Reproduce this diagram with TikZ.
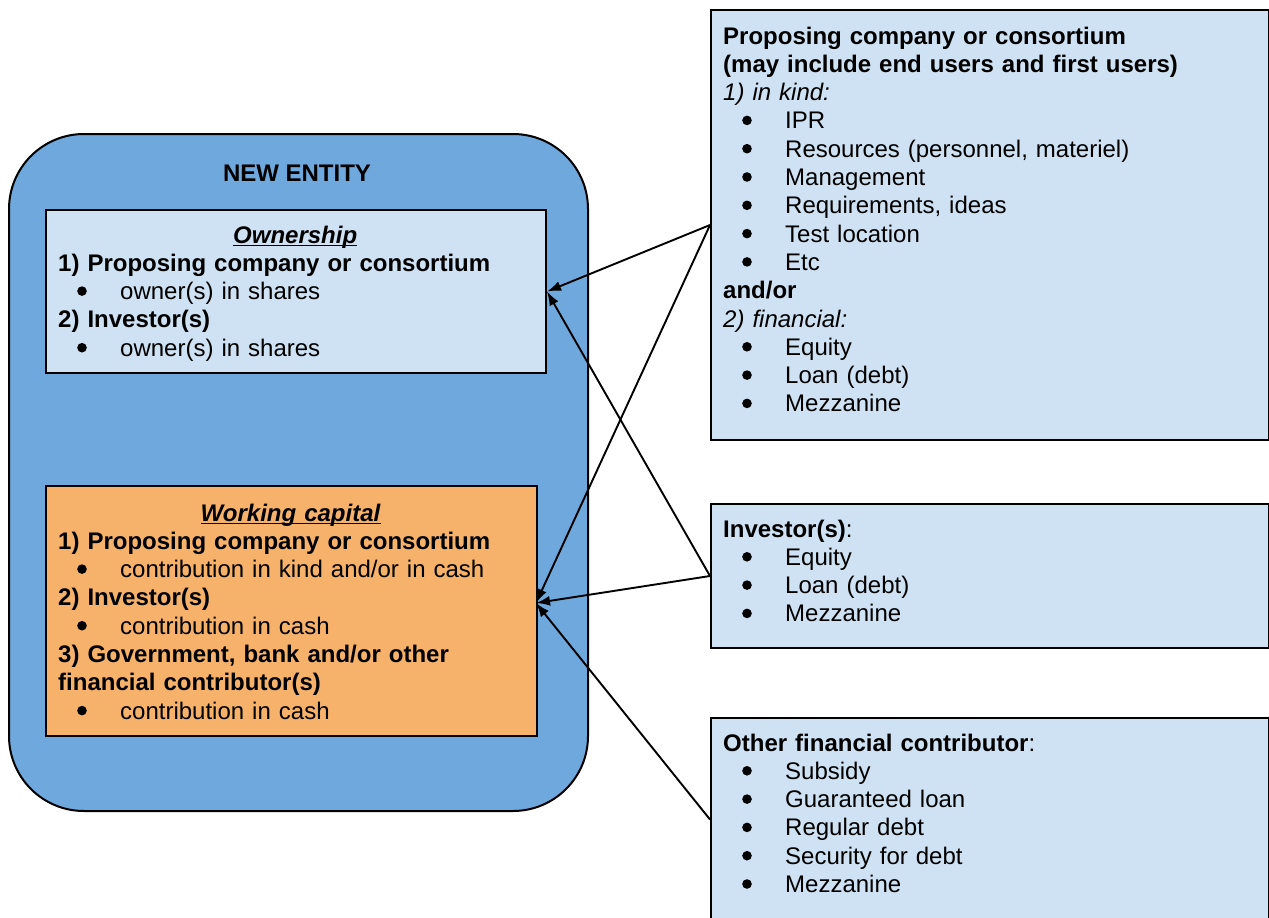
\documentclass[tikz,border=0pt]{standalone}
\usepackage{fontspec}
\setmainfont{Liberation Sans}
\usetikzlibrary{arrows.meta}
\definecolor{outerblue}{HTML}{6FA8DC}
\definecolor{lightblue}{HTML}{CFE2F3}
\definecolor{orangebox}{HTML}{F6B26B}
\newcommand{\bigbul}{\tikz[baseline=0pt]\fill[black] (0pt,8.5pt) circle[radius=4.8pt];}
\newcommand{\itm}[1]{\makebox[62pt][l]{\hspace{19pt}\bigbul}#1}
\newcommand{\myul}[1]{{\setbox0\hbox{#1}\rlap{\rule[-3pt]{\wd0}{1.4pt}}\box0}}
\newcommand{\ttl}[1]{\makebox[\linewidth][c]{\myul{\textbf{\textit{#1}}}}}
\begin{document}
\begin{tikzpicture}[x=1pt,y=-1pt,
  frame/.style={draw=black, line width=2pt, inner sep=0pt, anchor=north west},
  txt/.style={anchor=base west, inner sep=0pt, align=left, font=\fontsize{24pt}{28.3pt}\selectfont, text=black},
  arr/.style={draw=black, line width=1.9pt, -{Latex[length=14pt,width=10pt]}}]
\useasboundingbox (0,0) rectangle (1269,918);
\fill[white] (0,0) rectangle (1269,918);

% new entity
\node[frame, fill=outerblue, rounded corners=75pt, minimum width=579pt, minimum height=677pt] (ne) at (8,133) {};
\node[anchor=base, inner sep=0pt, font=\fontsize{24pt}{28.3pt}\selectfont\bfseries] (net) at (297,181) {NEW ENTITY};

% ownership
\node[frame, fill=lightblue, minimum width=500pt, minimum height=163pt] (own) at (45,209) {};
\node[txt, text width=474pt] (ownt) at (58,243) {\ttl{Ownership}\\
\textbf{1) Proposing company or consortium}\\
\itm{owner(s) in shares}\\
\textbf{2) Investor(s)}\\
\itm{owner(s) in shares}};

% working capital
\node[frame, fill=orangebox, minimum width=491pt, minimum height=250pt] (wc) at (45,485) {};
\node[txt, text width=465pt] (wct) at (58,521) {\ttl{Working capital}\\
\textbf{1) Proposing company or consortium}\\
\itm{contribution in kind and/or in cash}\\
\textbf{2) Investor(s)}\\
\itm{contribution in cash}\\
\textbf{3) Government, bank and/or other}\\
\textbf{financial contributor(s)}\\
\itm{contribution in cash}};

% right boxes
\node[frame, fill=lightblue, minimum width=558pt, minimum height=430pt] (pb) at (710,9) {};
\node[txt, text width=530pt] (pbt) at (723,44) {\textbf{Proposing company or consortium}\\
\textbf{(may include end users and first users)}\\
\textit{1) in kind:}\\
\itm{IPR}\\
\itm{Resources (personnel, materiel)}\\
\itm{Management}\\
\itm{Requirements, ideas}\\
\itm{Test location}\\
\itm{Etc}\\
\textbf{and/or}\\
\textit{2) financial:}\\
\itm{Equity}\\
\itm{Loan (debt)}\\
\itm{Mezzanine}};

\node[frame, fill=lightblue, minimum width=558pt, minimum height=144pt] (inv) at (710,503) {};
\node[txt, text width=530pt] (invt) at (723,537) {\textbf{Investor(s)}:\\
\itm{Equity}\\
\itm{Loan (debt)}\\
\itm{Mezzanine}};

\node[frame, fill=lightblue, minimum width=558pt, minimum height=203pt] (ofc) at (710,717) {};
\node[txt, text width=530pt] (ofct) at (723,751) {\textbf{Other financial contributor}:\\
\itm{Subsidy}\\
\itm{Guaranteed loan}\\
\itm{Regular debt}\\
\itm{Security for debt}\\
\itm{Mezzanine}};

% connectors
\coordinate (wcin) at (536,603);
\draw[arr] (pb.west) -- (own.east);
\draw[arr] (pb.west) -- (wcin);
\draw[arr] (inv.west) -- (own.east);
\draw[arr] (inv.west) -- (wcin);
\draw[arr] (ofc.west) -- (wcin);
\end{tikzpicture}
\end{document}
